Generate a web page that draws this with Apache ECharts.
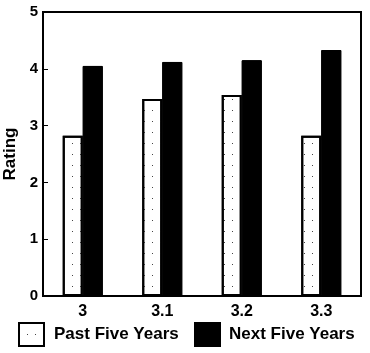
<!DOCTYPE html>
<html><head><meta charset="utf-8">
<script src="https://cdn.jsdelivr.net/npm/echarts@6/dist/echarts.min.js"></script>
<style>html,body{margin:0;padding:0;background:#fff}#c{width:370px;height:353px}</style>
</head><body><div id="c"></div>
<script>
var categories = ['3', '3.1', '3.2', '3.3'];
var pastFiveYears = [2.82, 3.47, 3.54, 2.82];
var nextFiveYears = [4.05, 4.12, 4.15, 4.33];
var yTicks = [0, 1, 2, 3, 4, 5];

var font = 'Liberation Sans';
var chart = echarts.init(document.getElementById('c'), null, {renderer: 'canvas'});
chart.setOption({
  animation: false,
  backgroundColor: '#fff',
  aria: {enabled: true, decal: {show: true}},
  grid: {left: 43, right: 9, top: 12, bottom: 57, outerBoundsMode: 'none', containLabel: false,
         show: true, borderColor: '#000', borderWidth: 2, backgroundColor: 'transparent'},
  legend: [
    {data: ['Past Five Years'], left: 18, top: 322, padding: 0, itemWidth: 25, itemHeight: 23, itemGap: 0, icon: 'rect',
     textStyle: {fontFamily: font, fontSize: 17, fontWeight: 'bold', color: '#000', padding: [0, 0, 0, 5]}},
    {data: ['Next Five Years'], left: 194, top: 322, padding: 0, itemWidth: 25, itemHeight: 23, itemGap: 0, icon: 'rect',
     textStyle: {fontFamily: font, fontSize: 17, fontWeight: 'bold', color: '#000', padding: [0, 0, 0, 4]}}
  ],
  xAxis: {
    type: 'category', data: categories,
    axisLine: {lineStyle: {color: '#000', width: 2}},
    axisTick: {show: false},
    axisLabel: {fontFamily: font, fontSize: 16, fontWeight: 'bold', color: '#000', margin: 8}
  },
  yAxis: {
    type: 'value', min: 0, max: 5, interval: 1,
    name: 'Rating', nameLocation: 'middle', nameGap: 22, nameRotate: 90,
    nameTextStyle: {fontFamily: font, fontSize: 17, fontWeight: 'bold', color: '#000'},
    axisLine: {show: true, lineStyle: {color: '#000', width: 2}},
    axisTick: {show: true, inside: true, length: 5, lineStyle: {color: '#000', width: 1}},
    splitLine: {show: false},
    axisLabel: {fontFamily: font, fontSize: 15, fontWeight: 'bold', color: '#000', margin: 5,
      formatter: function (v) { return yTicks.indexOf(v) >= 0 ? String(v) : ''; }}
  },
  series: [
    {name: 'Past Five Years', type: 'bar', data: pastFiveYears, barWidth: 20, barGap: '0%',
     itemStyle: {color: '#fff', borderColor: '#000', borderWidth: 2,
       decal: {symbol: 'rect', symbolSize: 1, dashArrayX: [1, 7], dashArrayY: [1, 10], color: '#444', rotation: 0}}},
    {name: 'Next Five Years', type: 'bar', data: nextFiveYears, barWidth: 20,
     itemStyle: {color: '#000', borderColor: '#000', borderWidth: 1, decal: {symbol: 'none'}}}
  ]
});
</script></body></html>
